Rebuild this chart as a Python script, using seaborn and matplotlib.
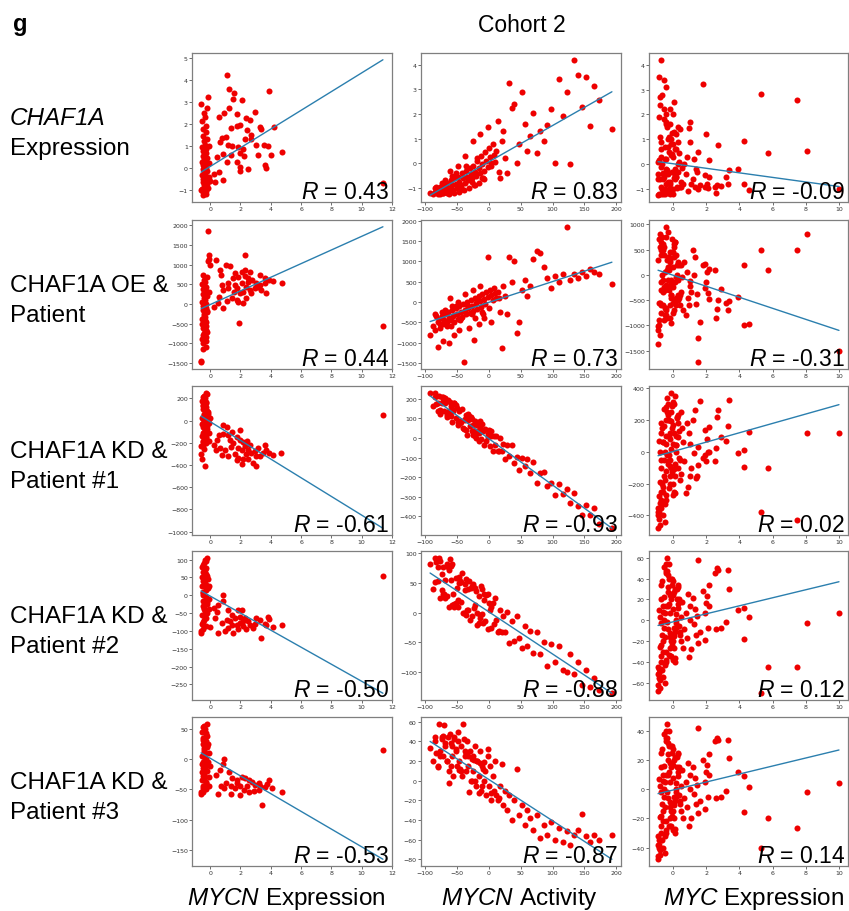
import numpy as np
import matplotlib.pyplot as plt
import seaborn as sns

# ---- column 1: MYCN expression (non-amplified band + amplified cluster + one outlier)
mycn_band_x = [
    -0.50, -0.30, -0.45, -0.25, -0.55, -0.35, -0.40, -0.20, -0.50, -0.30,
    -0.45, -0.25, -0.55, -0.35, -0.40, -0.20, -0.50, -0.30, -0.45, -0.25,
    -0.55, -0.35, -0.40, -0.20, -0.50, -0.30, -0.45, -0.25, -0.55, -0.35,
    -0.40, -0.20, -0.50, -0.30, -0.45, -0.25, -0.55, -0.35, -0.40, -0.20,
    -0.15, -0.10, -0.05, 0.00, -0.60, -0.15, -0.10, -0.60]
mycn_outlier_x = 11.4

band_y_expr = [
    -1.25, -1.20, -1.10, -1.05, -0.95, -0.90, -0.80, -0.75, -0.65, -0.60,
    -0.50, -0.45, -0.35, -0.30, -0.20, -0.15, -0.05, 0.00, 0.10, 0.15,
    0.25, 0.30, 0.40, 0.45, 0.55, 0.65, 0.75, 0.85, 0.95, 1.05,
    1.20, 1.30, 1.45, 1.60, 1.75, 1.90, 2.10, 2.30, 2.50, 2.70,
    -0.90, -0.40, 0.20, -0.60, 2.90, 3.20, 1.00, -1.00]
band_y_oe = [
    -1150, -1100, -1000, -950, -880, -820, -750, -700, -620, -560,
    -500, -450, -380, -320, -260, -200, -150, -100, -40, 0,
    50, 100, 150, 200, 260, 320, 380, 440, 500, 560,
    620, 680, 740, -850, -780, -650, -520, -420, -300, -180,
    1850, 1250, 1150, 980, -1450, 1100, 300, -1480]
band_y_kd1 = [
    -220, -200, -180, -160, -140, -120, -100, -80, -60, -40,
    -20, 0, 20, 40, 60, 80, 100, 120, 140, 160,
    180, 200, 220, 240, -190, -150, -110, -70, -30, 10,
    50, 90, 130, 170, 210, 250, -350, -410, -260, -50,
    60, -110, -180, 20, -300, 80, -20, -230]
band_y_kd2 = [
    -95, -85, -75, -65, -55, -45, -35, -25, -15, -5,
    5, 15, 25, 35, 45, 55, 65, 75, 85, 95,
    -80, -60, -40, -20, 0, 20, 40, 60, 80, 100,
    -70, -50, -30, -10, 10, 30, 50, 70, 90, 105,
    20, -10, -40, -90, -105, 45, 25, -100]
band_y_kd3 = [
    -55, -50, -45, -40, -35, -30, -25, -20, -15, -10,
    -5, 0, 5, 10, 15, 20, 25, 30, 35, 40,
    45, 50, 55, 58, -48, -38, -28, -18, -8, 2,
    12, 22, 32, 42, 52, -42, -22, -2, 18, 38,
    -5, -30, -45, -12, -58, 25, 10, -55]

amp_x_expr = [
    1.09, 1.24, 1.57, 1.48, 2.07, 3.91, 1.26, 0.91, 0.61, 1.74,
    2.39, 2.93, 2.61, 1.78, 1.96, 1.35, 1.04, 0.76, 0.65, 2.43,
    2.72, 3.26, 3.37, 4.24, 2.72, 2.28, 3.04, 3.52, 3.80, 1.85,
    2.17, 1.20, 1.41, 0.87, 1.35, 1.96, 2.22, 3.15, 4.02, 4.74,
    0.48, 1.09, 1.74, 1.96, 2.50, 3.59, 3.70, 1.96, 0.61, 0.83,
    0.33, 0.22]
amp_y_expr = [
    4.20, 3.59, 3.41, 3.14, 3.09, 3.48, 2.71, 2.47, 2.30, 2.45,
    2.27, 2.53, 2.18, 1.89, 1.92, 1.80, 1.38, 1.35, 1.17, 1.70,
    1.47, 1.85, 1.77, 1.85, 1.32, 1.32, 1.05, 1.02, 0.98, 0.94,
    0.86, 1.02, 0.98, 0.64, 0.56, 0.68, 0.53, 0.56, 0.56, 0.71,
    0.48, 0.26, 0.26, 0.03, -0.05, 0.11, 0.00, -0.17, -0.20, -0.55,
    -0.65, -0.27]
amp_x_oe = [
    0.37, 1.02, 0.65, 0.70, 1.30, 1.63, 1.52, 0.76, 1.20, 1.85,
    2.07, 2.28, 2.65, 2.50, 2.78, 3.26, 3.59, 3.91, 4.13, 4.72,
    3.04, 3.37, 3.70, 2.61, 2.17, 1.96, 1.74, 1.41, 1.09, 0.54,
    0.28, 0.87, 1.91, 2.28, 1.63, 2.39, 2.93, 2.07, 3.15, 2.72,
    1.57, 1.20, 0.87, 1.85, 2.39, 2.17, 3.26, 3.59, 2.50, 1.74,
    0.61, 2.28]
amp_y_oe = [
    1120, 990, 865, 740, 965, 780, 650, 480, 400, 680,
    820, 865, 820, 650, 610, 740, 650, 610, 590, 525,
    525, 355, 270, 355, 310, 270, 100, 145, 85, 17,
    -70, -110, -490, 1240, 480, 440, 400, 525, 440, 270,
    310, 525, 355, 60, 145, 17, 480, 525, 565, 400,
    185, 710]
amp_x_kd1 = [
    0.87, 1.09, 0.83, 1.20, 0.61, 1.41, 1.96, 1.74, 1.30, 1.52,
    1.96, 2.17, 2.43, 2.28, 2.07, 1.85, 2.50, 2.72, 2.93, 3.15,
    3.59, 3.48, 3.70, 3.91, 4.13, 4.67, 3.26, 3.04, 2.83, 2.50,
    2.17, 1.85, 1.63, 1.20, 0.76, 0.98, 0.65, 0.39, 0.22, 0.43,
    1.74, 2.07, 1.35, 2.65, 3.04, 2.35]
amp_y_kd1 = [
    -41, -56, -124, -129, -129, -100, -85, -144, -174, -203,
    -174, -194, -182, -232, -262, -247, -262, -291, -276, -247,
    -218, -291, -262, -291, -312, -291, -321, -409, -379, -350,
    -350, -335, -306, -321, -312, -262, -247, -262, -218, -174,
    -359, -394, -241, -218, -321, -300]
amp_x_kd2 = [
    0.87, 0.83, 0.54, 1.20, 1.85, 2.07, 1.41, 1.63, 1.96, 2.28,
    2.50, 1.96, 1.74, 2.17, 2.61, 3.04, 3.26, 3.80, 3.91, 3.59,
    3.70, 4.13, 4.74, 3.37, 2.83, 2.39, 1.85, 1.20, 0.98, 0.54,
    1.41, 0.76, 1.09, 0.33, 0.22, 0.48, 1.52, 2.17, 2.93, 1.30]
amp_y_kd2 = [
    1, -16, -27, -41, -41, -41, -56, -64, -60, -64,
    -73, -78, -84, -87, -84, -64, -69, -60, -67, -80,
    -84, -90, -84, -119, -93, -96, -96, -92, -101, -106,
    -83, -78, -69, -64, -36, -47, -106, -73, -80, -73]
amp_x_kd3 = [
    0.91, 0.87, 0.65, 0.37, 1.24, 1.46, 1.78, 2.11, 2.33, 2.54,
    2.76, 2.98, 3.20, 3.30, 3.74, 3.91, 4.07, 4.72, 3.41, 2.00,
    1.67, 1.35, 1.02, 0.70, 0.52, 2.20, 2.54, 2.87, 2.00, 1.35,
    0.91, 1.78, 2.43, 3.24, 3.61]
amp_y_kd3 = [
    0.5, -7.6, -18, -27, -22, -31, -35, -29, -32, -35,
    -37.5, -43, -40, -44, -42, -35, -48, -55, -76, -44,
    -48, -44, -40, -44, -58, -51, -55, -53, -59, -58,
    -48, -40, -44, -51, -46]
outlier_y = [-0.7, -560, 47, 55, 14]

# ---- column 2: MYCN activity
activity_x = [
    -92, -88, -84, -80, -78, -76, -74, -72, -70, -68,
    -66, -64, -62, -60, -58, -56, -54, -52, -50, -48,
    -46, -44, -42, -40, -38, -36, -34, -32, -30, -28,
    -26, -24, -22, -20, -18, -16, -14, -12, -10, -8,
    -6, -4, -2, 0, 2, 4, 6, 8, 10, 12,
    -79, -71, -63, -55, -47, -39, -31, -23, -15, -7,
    -61, -49, -37, -25, -13, -1, 14, 17, 20, 23,
    26, 29, 32, 36, 40, 44, 48, 52, 56, 60,
    65, 70, 75, 80, 86, 92, 98, 104, 110, 116,
    122, 128, 134, 140, 146, 152, 158, 165, 172, 193,
    -85, -77, -69, -59, -51, -43, -35, -27, -19, -11,
    -83, -73, -65, -57, -45, -33, -21, -9, 3, 16]
act_y_expr = [
    -1.2, -1.25, -1.15, -1.1, -1.2, -0.95, -1.05, -1.2, -0.9, -1.1,
    -0.8, -1.0, -1.15, -0.7, -0.9, -1.1, -0.6, -0.85, -1.0, -0.55,
    -0.75, -0.9, -0.4, -0.6, -0.8, -0.3, -0.55, -0.7, -0.2, -0.45,
    -0.6, -0.1, -0.35, -0.5, 0.1, -0.2, -0.4, 0.3, -0.05, -0.3,
    0.45, 0.1, -0.15, 0.6, 0.25, -0.1, 0.8, 0.35, 0.05, 0.5,
    -1.25, -1.2, -1.25, -1.2, -1.15, -1.1, -1.0, -0.9, -0.8, -0.65,
    -0.3, -0.1, 0.3, 0.9, 1.2, 1.45, 1.7, -0.6, 0.9, 1.3,
    0.2, -0.4, 3.25, 2.25, 2.4, 0.0, 0.8, 2.9, 1.6, 0.5,
    1.1, 2.05, 0.4, 1.3, 0.9, 1.55, 2.2, 0.0, 3.4, 1.9,
    2.9, -0.05, 4.2, 3.6, 2.3, 3.5, 1.5, 3.15, 2.55, 1.4,
    -1.0, -1.25, -0.7, -1.05, -0.4, -0.95, -0.1, -0.75, 0.2, -0.6,
    -0.95, -0.8, -1.2, -0.5, -1.1, -0.65, -0.9, -0.6, 0.0, -0.35]
act_y_oe = [
    -800, -600, -700, -500, -420, -650, -350, -550, -450, -300,
    -500, -250, -400, -600, -200, -350, -480, -150, -300, -420,
    -100, -250, -380, -50, -200, -300, 0, -150, -260, 50,
    -100, -220, 100, -30, -180, 150, 20, -120, 200, 80,
    -60, 250, 120, -150, 300, 180, 50, 350, 220, 100,
    -1100, -950, -1000, -800, -700, -1480, -650, -930, -550, -400,
    100, 0, 200, 300, 400, 1100, 250, -250, -1120, 400,
    150, -300, 1100, 500, 1000, -750, -500, 300, 550, 150,
    400, 1050, 1250, 1200, 850, 600, 350, 650, 500, 700,
    1850, 550, 700, 600, 750, 650, 800, 750, 700, 450,
    -300, -550, -200, -450, -100, -400, -50, -300, 50, -250,
    -350, -250, -600, -100, -450, -100, -400, -300, -500, 100]
act_y_kd1 = [
    230, 166, 231, 177, 212, 122, 177, 208, 138, 178,
    118, 194, 139, 164, 84, 140, 180, 100, 151, 66,
    136, 86, 147, 52, 92, 117, 18, 93, 63, 108,
    34, 64, 89, -1, 65, 25, 85, -5, 36, -34,
    46, -14, 7, 42, -43, 8, -67, 8, -37, 9,
    139, 190, 116, 177, 88, 44, 110, 37, -17, 39,
    182, 83, 95, 16, 58, 19, -66, 2, -65, -33,
    -105, -37, -94, -38, -128, -97, -162, -101, -141, -105,
    -177, -124, -231, -178, -172, -246, -230, -289, -234, -288,
    -262, -331, -281, -345, -394, -343, -392, -359, -441, -460,
    208, 144, 206, 112, 168, 84, 40, 96, 37, 73,
    174, 210, 106, 147, 79, 125, 12, 38, 35, -66]
act_y_kd2 = [
    81, 39, 91, 53, 92, 25, 64, 77, 31, 54,
    28, 77, 10, 54, 82, 31, 10, 58, 42, 10,
    59, 18, 66, 0, 38, 57, 5, 39, -12, 41,
    -5, 48, 12, 36, -21, 28, -4, 45, -2, 32,
    -14, 29, -27, 16, 5, -26, 17, -19, 24, -12,
    77, 32, 71, 15, 50, -1, 53, 8, -18, 21,
    90, 21, 48, 44, -9, 32, -33, 4, -33, -5,
    -32, 1, -51, -14, -47, -5, -43, -60, -23, -56,
    -30, -68, -32, -70, -49, -89, -53, -82, -56, -96,
    -100, -69, -103, -83, -122, -96, -125, -110, -130, -135,
    51, 86, 25, 78, 17, 52, -4, 45, 0, 39,
    85, 38, 82, 12, 53, 5, 41, -17, 9, -30]
act_y_kd3 = [
    33, 20, 40, 15, 58, 30, 45, 25, 57, 35,
    20, 45, 10, 38, 25, 5, 42, 30, 15, 50,
    20, 35, 5, 58, 25, 10, 40, 15, 30, 0,
    22, 10, 35, -5, 20, 5, 30, -10, 15, 0,
    10, -15, 25, -5, 15, -20, 5, -10, 20, -15,
    14, 46, -2, 45, 11, 43, -11, 21, -12, 19,
    48, 40, 30, 25, 18, 32, -20, -5, 17, -25,
    -10, -30, -15, -40, -20, 12, -35, -25, -45, -30,
    -38, -50, -35, -58, -45, -55, -42, -60, -48, -62,
    -51, -65, -55, -50, -34, -56, -62, -55, -60, -55,
    45, 25, 38, 15, 32, 10, 28, 0, 20, -5,
    28, 42, 20, 35, 12, 25, 0, 12, -12, -18]

# ---- column 3: MYC expression
myc_x = [
    10.0, 8.1, 7.45, 5.7, 5.3, 4.6, 4.3, 4.25, 3.9, 3.35,
    3.3, 3.2, 2.9, 2.7, 2.65, 2.6, 2.55, 2.2, 2.15, 2.1,
    2.05, 2.0, 1.95, 1.9, 1.8, 1.6, 1.5, 1.5, 1.45, 1.4,
    1.3, 1.25, 1.2, 1.1, 1.05, 1.0, 0.95, 0.9, 0.85, 0.8,
    -0.85, -0.7, -0.55, -0.4, -0.25, -0.1, 0.05, 0.2, -0.8, -0.65,
    -0.5, -0.35, -0.2, -0.05, 0.1, 0.25, -0.9, -0.75, -0.6, -0.45,
    -0.3, -0.15, 0.0, 0.15, 0.3, -0.85, -0.7, -0.55, -0.4, -0.25,
    -0.1, 0.05, 0.2, 0.35, -0.8, -0.65, -0.5, -0.35, -0.2, -0.05,
    0.1, 0.4, -0.9, -0.75, -0.6, -0.45, -0.3, -0.15, 0.0, 0.5,
    -0.85, -0.7, -0.55, -0.4, -0.25, -0.1, 0.05, 0.3, 0.6, 0.45,
    -0.8, -0.6, -0.4, -0.2, 0.0, 0.2, -0.7, -0.5, -0.3, -0.1,
    -0.88, -0.72, -0.58, -0.42, -0.28, -0.12, 0.02, 0.18, 0.32, 0.48,
    -0.82, -0.68, -0.52, -0.38, -0.22, -0.08, 0.08, 0.22, 0.38, 0.55,
    -0.78, -0.62, -0.48, -0.32, -0.18, -0.02, 0.12, 0.28, -0.9, 0.65]
myc_y_expr = [
    -1.0, 0.53, 2.6, 0.43, 2.84, -1.05, 0.93, -0.8, -0.18, -0.25,
    -0.81, -0.5, -0.86, 0.76, -0.85, -1.15, -0.9, -0.5, 0.16, -0.95,
    -0.8, 1.22, -0.9, -0.45, 3.23, -0.85, 0.5, -1.0, -0.3, -0.18,
    -0.9, 0.2, -0.6, -0.8, 0.9, 1.7, 1.45, -1.1, 0.3, -0.4,
    -1.2, -0.9, -0.5, 0.2, -1.1, 0.8, -0.3, 1.2, 2.4, 0.0,
    -1.0, 1.5, -0.7, 0.4, -0.2, -0.9, -1.25, 0.6, -0.4, 2.0,
    1.0, -1.2, 0.3, -0.6, 0.9, 3.5, -0.1, 1.8, -0.8, 0.5,
    -1.15, 1.3, -0.5, 0.1, -0.6, 2.8, 0.7, -1.05, 1.6, -0.3,
    0.6, -0.9, 0.1, 4.2, -1.2, 3.1, -0.4, 2.2, -1.0, -0.7,
    1.9, 0.3, 3.4, -0.2, 1.1, -1.1, 2.5, 0.0, -0.8, 1.4,
    2.7, -0.6, 1.6, -0.95, 0.8, -0.5, -1.2, 0.2, -1.05, 1.0,
    -0.4, 0.9, -1.1, 1.7, -0.7, 0.35, -1.2, 0.6, -0.3, -0.9,
    0.15, -1.0, 2.2, -0.25, -1.15, 1.25, -0.55, -0.95, 0.45, -0.15,
    1.1, -0.35, -1.2, 0.7, -0.8, 2.0, -0.45, 1.5, -0.6, 0.0]
myc_y_oe = [
    -1500, 810, 500, 100, 500, -980, 190, -990, -430, -520,
    -700, -555, -280, -500, -675, -855, 90, 120, -485, -365,
    50, -150, 220, -270, 200, -925, -1260, -1730, -385, -585,
    355, -10, 490, -350, -215, -120, -600, -450, 60, -800,
    -1000, -300, 400, -650, 150, -100, 600, -450, 800, 0,
    -800, 300, -200, 700, -500, 200, -1020, 500, -350, 950,
    100, -600, 450, -150, 250, -900, 650, -250, -700, 350,
    -400, 550, -50, 200, -550, 750, -300, -850, 450, -200,
    650, -400, -1370, 400, -600, 750, -100, 300, -750, -350,
    700, -150, 550, -250, 100, -450, 350, -500, -700, -600,
    -1200, 600, -800, 250, -550, 400, -600, 50, 150, -950,
    300, -750, 500, -200, 850, -400, 150, -600, -100, 200,
    -550, 600, -900, 100, -300, 450, -700, 0, -450, -50,
    550, -100, -650, 350, -850, -250, 650, -400, -1100, 250]
myc_y_kd1 = [
    115, 115, -430, -105, -380, 125, 8, -95, -6, 323,
    162, 69, 90, 260, 219, 21, -60, 156, 0, -4,
    83, -56, 135, -20, -40, 319, -83, 30, -150, -167,
    260, -10, 200, -100, 50, -150, 120, -220, 180, -260,
    -420, -300, -150, 50, 200, -100, 300, 100, -460, -200,
    0, 250, -50, 150, -150, 220, -480, -350, -250, 100,
    300, -200, 50, -80, 180, -380, -100, 270, -300, -20,
    250, -250, 0, 130, -320, 150, -180, 340, 80, -130,
    350, -50, -400, -250, 60, -120, 200, 120, -200, 250,
    -280, 180, -50, -270, 100, 370, 120, -100, 60, -180,
    0, -400, 200, -150, 310, 40, -50, -330, -80, 20,
    -350, 120, -220, 280, -60, 190, -270, 40, 230, -140,
    70, -330, 160, -20, -230, 290, -110, 210, -40, 150,
    -190, 60, -440, 230, -90, 170, -260, 90, -380, -60]
myc_y_kd2 = [
    7, -3, -45, -45, -70, 3, 12, -18, 10, 30,
    48, -2, -7, 48, 50, -8, 45, 14, 34, -7,
    23, 17, -19, 7, 28, -11, 58, -22, 4, -14,
    11, -4, 21, -28, 0, 14, -35, 25, -17, 7,
    -55, -34, -7, 14, 40, -20, 27, 0, -65, -14,
    7, 47, -27, 34, -40, 20, -68, -47, -20, 54,
    27, -34, 11, -11, 34, -51, -3, 51, -40, 16,
    40, -27, -7, 20, -57, 38, -16, 60, 7, -24,
    30, -11, -62, -40, 14, -30, 43, 24, -20, 3,
    -47, 34, 0, -38, 54, 20, -7, 16, -27, -14,
    3, -54, 47, -16, 38, -3, -24, -43, 14, -34,
    -45, 20, -30, 45, -8, 25, -38, 6, 32, -20,
    10, -48, 22, -2, -33, 40, -15, 30, -5, 18,
    -26, 8, -60, 32, -12, 24, -36, 12, -52, -8]
myc_y_kd3 = [
    4.5, -2, -26.5, -19.7, -40, 1.4, 9.3, -15.8, 12, 21.5,
    34, -1, -5, 34, 35, -6, 33, 10, 24, -5,
    16.5, 12, -13.6, 5, 20, -8, 42, -16, 3, -10,
    8, -3, 15, -20, 0, 10, -25, 18, -12, 5,
    -40, -25, -5, 10, 30, -15, 20, 0, -45, -10,
    5, 35, -20, 25, -30, 15, -48, -35, -15, 40,
    20, -25, 8, -8, 25, -38, -2, 38, -30, 12,
    30, -20, -5, 15, -42, 28, -12, 45, 5, -18,
    22, -8, -46, -30, 10, -22, 32, 18, -15, 2,
    -35, 25, 0, -28, 40, 15, -5, 12, -20, -10,
    2, -40, 35, -12, 28, -2, -18, -32, 10, -25,
    -32, 15, -22, 33, -6, 18, -28, 4, 24, -15,
    7, -35, 16, -2, -25, 30, -11, 22, -4, 13,
    -19, 6, -44, 24, -9, 17, -27, 9, -38, -6]

# ---- fitted lines and correlation labels (rows x columns)
fit_slope = [[0.425, 0.01474, -0.0917],
             [173.3, 5.12, -109.2],
             [-84.2, -2.37, 29.4],
             [-23.9, -0.707, 3.85],
             [-14.6, -0.421, 2.75]]
fit_intercept = [[0.055, 0.056, 0.0175],
                 [-16, -9, -8],
                 [-10.5, -3, 1.4],
                 [-2.35, 1.4, -1.5],
                 [1.25, 1.3, -0.5]]
r_values = [["0.43", "0.83", "-0.09"],
            ["0.44", "0.73", "-0.31"],
            ["-0.61", "-0.93", "0.02"],
            ["-0.50", "-0.88", "0.12"],
            ["-0.53", "-0.87", "0.14"]]
row_labels = [("CHAF1A", "Expression"), ("CHAF1A OE &", "Patient"),
              ("CHAF1A KD &", "Patient #1"), ("CHAF1A KD &", "Patient #2"),
              ("CHAF1A KD &", "Patient #3")]
col_labels = [r"$\mathit{MYCN}$ Expression", r"$\mathit{MYCN}$ Activity",
              r"$\mathit{MYC}$ Expression"]

band_y = [band_y_expr, band_y_oe, band_y_kd1, band_y_kd2, band_y_kd3]
amp_x = [amp_x_expr, amp_x_oe, amp_x_kd1, amp_x_kd2, amp_x_kd3]
amp_y = [amp_y_expr, amp_y_oe, amp_y_kd1, amp_y_kd2, amp_y_kd3]
act_y = [act_y_expr, act_y_oe, act_y_kd1, act_y_kd2, act_y_kd3]
myc_y = [myc_y_expr, myc_y_oe, myc_y_kd1, myc_y_kd2, myc_y_kd3]

sns.set_theme(style="white")
plt.rcParams['font.family'] = ['DejaVu Sans']
plt.rcParams['text.color'] = 'black'
plt.rcParams['mathtext.fontset'] = 'custom'
plt.rcParams['mathtext.it'] = 'Liberation Sans:italic'
plt.rcParams['mathtext.rm'] = 'Liberation Sans'

W, H = 849, 912
fig = plt.figure(figsize=(W / 100, H / 100), dpi=100)

col_left = [192, 421, 649]
col_width = [200, 200, 199]
row_top = [54, 221, 387, 552, 718]
row_h = 149


def draw_panel(ax, x, y, slope, intercept, r_text):
    sns.scatterplot(x=x, y=y, ax=ax, color='#ee0000', s=19, linewidth=0,
                    legend=False)
    xs = np.array([min(x), max(x)])
    ax.plot(xs, intercept + slope * xs, color='#2b7fae', lw=1)
    ax.text(0.985, 0.027, r'$\mathit{R}$ = ' + r_text, transform=ax.transAxes,
            ha='right', va='baseline', fontsize=16.5, family='Liberation Sans',
            color='black')
    ax.tick_params(bottom=True, left=True, labelsize=4.5, length=2, width=0.5,
                   colors='#333333', pad=1)
    for sp in ax.spines.values():
        sp.set_color('#7f7f7f')
        sp.set_linewidth(0.9)
    ax.set_xlabel('')
    ax.set_ylabel('')


for r in range(5):
    xs_by_col = [mycn_band_x + amp_x[r] + [mycn_outlier_x], activity_x, myc_x]
    ys_by_col = [band_y[r] + amp_y[r] + [outlier_y[r]], act_y[r], myc_y[r]]
    for c in range(3):
        ax = fig.add_axes([col_left[c] / W, 1 - (row_top[r] + row_h) / H,
                           col_width[c] / W, row_h / H])
        draw_panel(ax, xs_by_col[c], ys_by_col[c], fit_slope[r][c],
                   fit_intercept[r][c], r_values[r][c])

    base = row_top[r] + 71
    fig.text(10 / W, 1 - base / H, row_labels[r][0], fontsize=17.5,
             family='Liberation Sans', style='italic' if r == 0 else 'normal',
             va='baseline', ha='left')
    fig.text(10 / W, 1 - (base + 30) / H, row_labels[r][1], fontsize=17.5,
             family='Liberation Sans', va='baseline', ha='left')

for c, cx in enumerate([286, 519, 753]):
    fig.text(cx / W, 1 - 905 / H, col_labels[c], fontsize=17.5,
             family='Liberation Sans', ha='center', va='baseline')

fig.text(522 / W, 1 - 32 / H, 'Cohort 2', fontsize=16.5,
         family='Liberation Sans', ha='center', va='baseline')
fig.text(13 / W, 1 - 31 / H, 'g', fontsize=17, fontweight='bold',
         family='Liberation Sans', ha='left', va='baseline')

fig.savefig('out.png', dpi=100)
